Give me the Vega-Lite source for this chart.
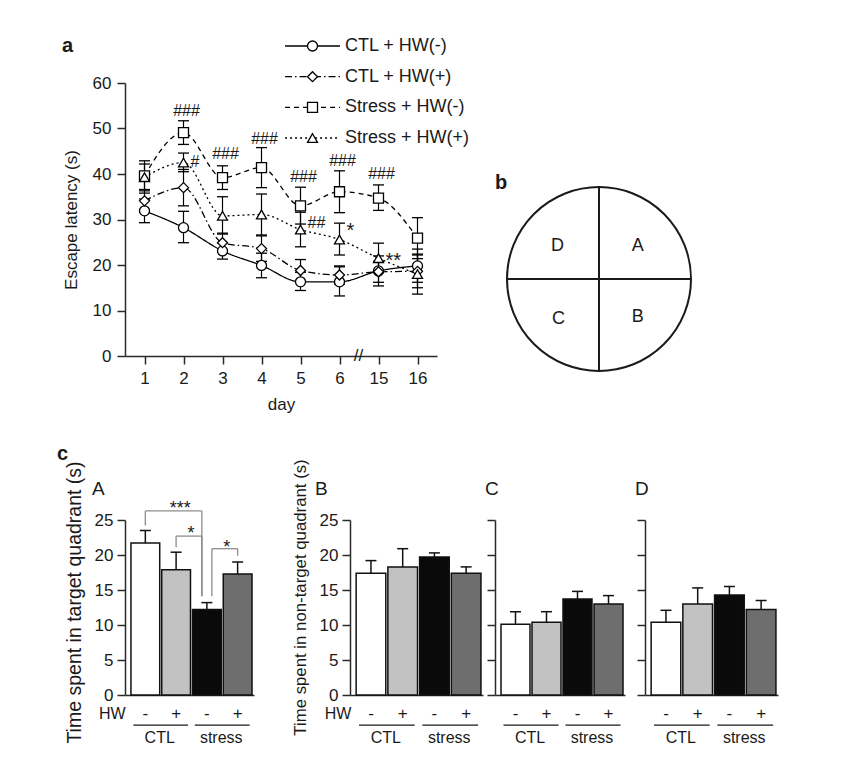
{
  "$schema": "https://vega.github.io/schema/vega-lite/v6.json",
  "background": "white",
  "padding": {"left": 57, "top": 36, "right": 5, "bottom": 5},
  "config": {
    "font": "Liberation Sans",
    "view": {"stroke": null},
    "axis": {"domainColor": "#2a2a2a", "domainWidth": 1.5, "tickColor": "#2a2a2a", "tickWidth": 1.5, "labelColor": "#1a1a1a", "titleColor": "#1a1a1a", "titleFontWeight": "normal", "grid": false, "labelFont": "Liberation Sans", "titleFont": "Liberation Sans", "labelOverlap": false},
    "title": {"font": "Liberation Sans", "color": "#1a1a1a"}
  },
  "datasets": {
    "latency": [
      {"series": "CTL + HW(-)", "day": 1, "mean": 31.9, "lo": 29.3, "hi": 34.5},
      {"series": "CTL + HW(-)", "day": 2, "mean": 28.2, "lo": 24.9, "hi": 31.8},
      {"series": "CTL + HW(-)", "day": 3, "mean": 23.1, "lo": 21.3, "hi": 24.9},
      {"series": "CTL + HW(-)", "day": 4, "mean": 19.9, "lo": 17.2, "hi": 22.6},
      {"series": "CTL + HW(-)", "day": 5, "mean": 16.3, "lo": 14.4, "hi": 18.4},
      {"series": "CTL + HW(-)", "day": 6, "mean": 16.3, "lo": 13.2, "hi": 19.6},
      {"series": "CTL + HW(-)", "day": 15, "mean": 18.7, "lo": 15.4, "hi": 22.0},
      {"series": "CTL + HW(-)", "day": 16, "mean": 19.8, "lo": 16.2, "hi": 23.5},
      {"series": "CTL + HW(+)", "day": 1, "mean": 34.1, "lo": 31.6, "hi": 36.6},
      {"series": "CTL + HW(+)", "day": 2, "mean": 37.0, "lo": 33.0, "hi": 41.0},
      {"series": "CTL + HW(+)", "day": 3, "mean": 24.9, "lo": 22.8, "hi": 27.0},
      {"series": "CTL + HW(+)", "day": 4, "mean": 23.6, "lo": 20.8, "hi": 26.4},
      {"series": "CTL + HW(+)", "day": 5, "mean": 18.8, "lo": 16.4, "hi": 21.2},
      {"series": "CTL + HW(+)", "day": 6, "mean": 17.8, "lo": 15.8, "hi": 19.8},
      {"series": "CTL + HW(+)", "day": 15, "mean": 18.5, "lo": 16.2, "hi": 20.8},
      {"series": "CTL + HW(+)", "day": 16, "mean": 18.6, "lo": 15.0, "hi": 22.2},
      {"series": "Stress + HW(-)", "day": 1, "mean": 39.6, "lo": 36.3, "hi": 42.9},
      {"series": "Stress + HW(-)", "day": 2, "mean": 49.1, "lo": 46.5, "hi": 51.7},
      {"series": "Stress + HW(-)", "day": 3, "mean": 39.2, "lo": 36.6, "hi": 41.8},
      {"series": "Stress + HW(-)", "day": 4, "mean": 41.4, "lo": 37.0, "hi": 45.8},
      {"series": "Stress + HW(-)", "day": 5, "mean": 33.0, "lo": 29.0, "hi": 37.1},
      {"series": "Stress + HW(-)", "day": 6, "mean": 36.1, "lo": 31.5, "hi": 40.7},
      {"series": "Stress + HW(-)", "day": 15, "mean": 34.7, "lo": 32.0, "hi": 37.6},
      {"series": "Stress + HW(-)", "day": 16, "mean": 25.9, "lo": 21.4, "hi": 30.4},
      {"series": "Stress + HW(+)", "day": 1, "mean": 39.3, "lo": 35.8, "hi": 42.2},
      {"series": "Stress + HW(+)", "day": 2, "mean": 42.5, "lo": 40.5, "hi": 44.6},
      {"series": "Stress + HW(+)", "day": 3, "mean": 30.8, "lo": 26.8, "hi": 35.0},
      {"series": "Stress + HW(+)", "day": 4, "mean": 31.1, "lo": 26.6, "hi": 35.6},
      {"series": "Stress + HW(+)", "day": 5, "mean": 27.8, "lo": 24.0, "hi": 31.6},
      {"series": "Stress + HW(+)", "day": 6, "mean": 25.6, "lo": 22.2, "hi": 29.2},
      {"series": "Stress + HW(+)", "day": 15, "mean": 21.5, "lo": 18.3, "hi": 24.8},
      {"series": "Stress + HW(+)", "day": 16, "mean": 18.0, "lo": 13.6, "hi": 22.4}
    ],
    "legendRows": [
      {"series": "CTL + HW(-)", "rank": 1},
      {"series": "CTL + HW(+)", "rank": 2},
      {"series": "Stress + HW(-)", "rank": 3},
      {"series": "Stress + HW(+)", "rank": 4}
    ],
    "notes": [
      {"day": 2, "y": 53.8, "note": "###", "pos": "top"},
      {"day": 3, "y": 44.3, "note": "###", "pos": "top"},
      {"day": 4, "y": 47.8, "note": "###", "pos": "top"},
      {"day": 5, "y": 39.3, "note": "###", "pos": "top"},
      {"day": 6, "y": 42.9, "note": "###", "pos": "top"},
      {"day": 15, "y": 39.9, "note": "###", "pos": "top"},
      {"day": 2, "y": 42.7, "note": "#", "pos": "right"},
      {"day": 5, "y": 29.3, "note": "##", "pos": "right"},
      {"day": 6, "y": 28.4, "note": "*", "pos": "star"},
      {"day": 15, "y": 21.8, "note": "**", "pos": "star"}
    ],
    "quad": [
      {"quad": "A", "cond": "CTL-", "hw": "-", "mean": 21.7, "hi": 23.5},
      {"quad": "A", "cond": "CTL+", "hw": "+", "mean": 17.9, "hi": 20.4},
      {"quad": "A", "cond": "stress-", "hw": "-", "mean": 12.2, "hi": 13.2},
      {"quad": "A", "cond": "stress+", "hw": "+", "mean": 17.3, "hi": 19.0},
      {"quad": "B", "cond": "CTL-", "hw": "-", "mean": 17.4, "hi": 19.2},
      {"quad": "B", "cond": "CTL+", "hw": "+", "mean": 18.3, "hi": 20.9},
      {"quad": "B", "cond": "stress-", "hw": "-", "mean": 19.7, "hi": 20.3},
      {"quad": "B", "cond": "stress+", "hw": "+", "mean": 17.4, "hi": 18.3},
      {"quad": "C", "cond": "CTL-", "hw": "-", "mean": 10.1, "hi": 11.9},
      {"quad": "C", "cond": "CTL+", "hw": "+", "mean": 10.4, "hi": 11.9},
      {"quad": "C", "cond": "stress-", "hw": "-", "mean": 13.7, "hi": 14.8},
      {"quad": "C", "cond": "stress+", "hw": "+", "mean": 13.0, "hi": 14.2},
      {"quad": "D", "cond": "CTL-", "hw": "-", "mean": 10.4, "hi": 12.1},
      {"quad": "D", "cond": "CTL+", "hw": "+", "mean": 13.0, "hi": 15.3},
      {"quad": "D", "cond": "stress-", "hw": "-", "mean": 14.3, "hi": 15.5},
      {"quad": "D", "cond": "stress+", "hw": "+", "mean": 12.2, "hi": 13.5}
    ],
    "groups": [
      {"from": "CTL-", "to": "CTL+", "label": "CTL"},
      {"from": "stress-", "to": "stress+", "label": "stress"}
    ],
    "brackets": [
      {"b": "b1", "from": "CTL-", "to": "stress-", "top": 26.3, "fromLo": 24.2, "toLo": 14.1, "stars": "***"},
      {"b": "b2", "from": "CTL+", "to": "stress-", "top": 22.7, "fromLo": 21.1, "toLo": 14.1, "stars": "*"},
      {"b": "b3", "from": "stress-", "to": "stress+", "top": 20.9, "fromLo": 14.1, "toLo": 19.9, "stars": "*"}
    ]
  },
  "vconcat": [
    {
      "bounds": "flush",
      "spacing": 70,
      "hconcat": [
        {
          "width": 312,
          "height": 273,
          "title": {"text": "a", "anchor": "start", "frame": "group", "fontSize": 20, "fontWeight": "bold", "dx": -63, "offset": -35, "baseline": "alphabetic"},
          "resolve": {"scale": {"x": "independent", "y": "independent"}},
          "layer": [
            {
              "layer": [
                {
                  "data": {"name": "latency"},
                  "mark": {"type": "line", "interpolate": "monotone", "color": "black", "strokeWidth": 1.3},
                  "encoding": {
                    "x": {"field": "day", "type": "ordinal", "scale": {"type": "point", "padding": 0.5}, "axis": {"title": "day", "labelAngle": 0, "labelFontSize": 17, "titleFontSize": 17, "tickSize": 8, "labelPadding": 6, "titlePadding": 10}},
                    "y": {"field": "mean", "type": "quantitative", "scale": {"domain": [0, 60], "nice": false}, "axis": {"title": "Escape latency (s)", "values": [0, 10, 20, 30, 40, 50, 60], "tickCount": 7, "labelFontSize": 17, "titleFontSize": 17, "tickSize": 8, "labelPadding": 6, "titlePadding": 12}},
                    "strokeDash": {"field": "series", "type": "nominal", "scale": {"domain": ["CTL + HW(-)", "CTL + HW(+)", "Stress + HW(-)", "Stress + HW(+)"], "range": [[1, 0], [7, 3, 1.5, 3], [5, 4], [2, 3]]}, "legend": null}
                  }
                },
                {
                  "data": {"name": "latency"},
                  "mark": {"type": "rule", "color": "black", "strokeWidth": 1.2},
                  "encoding": {"x": {"field": "day", "type": "ordinal"}, "y": {"field": "lo", "type": "quantitative"}, "y2": {"field": "hi"}}
                },
                {
                  "data": {"name": "latency"},
                  "mark": {"type": "tick", "color": "black", "thickness": 1.3, "size": 11, "opacity": 1},
                  "encoding": {"x": {"field": "day", "type": "ordinal"}, "y": {"field": "lo", "type": "quantitative"}}
                },
                {
                  "data": {"name": "latency"},
                  "mark": {"type": "tick", "color": "black", "thickness": 1.3, "size": 11, "opacity": 1},
                  "encoding": {"x": {"field": "day", "type": "ordinal"}, "y": {"field": "hi", "type": "quantitative"}}
                },
                {
                  "data": {"name": "latency"},
                  "mark": {"type": "point", "filled": false, "fill": "white", "stroke": "black", "strokeWidth": 1.3, "size": 100, "opacity": 1},
                  "encoding": {
                    "x": {"field": "day", "type": "ordinal"},
                    "y": {"field": "mean", "type": "quantitative"},
                    "shape": {"field": "series", "type": "nominal", "scale": {"domain": ["CTL + HW(-)", "CTL + HW(+)", "Stress + HW(-)", "Stress + HW(+)"], "range": ["circle", "diamond", "square", "triangle-up"]}, "legend": null}
                  }
                },
                {
                  "data": {"name": "notes"},
                  "transform": [{"filter": "datum.pos === 'top'"}],
                  "mark": {"type": "text", "fontSize": 16, "dx": 3, "color": "#1a1a1a"},
                  "encoding": {"x": {"field": "day", "type": "ordinal"}, "y": {"field": "y", "type": "quantitative"}, "text": {"field": "note"}}
                },
                {
                  "data": {"name": "notes"},
                  "transform": [{"filter": "datum.pos === 'right'"}],
                  "mark": {"type": "text", "fontSize": 16, "dx": 7, "align": "left", "color": "#1a1a1a"},
                  "encoding": {"x": {"field": "day", "type": "ordinal"}, "y": {"field": "y", "type": "quantitative"}, "text": {"field": "note"}}
                },
                {
                  "data": {"name": "notes"},
                  "transform": [{"filter": "datum.pos === 'star'"}],
                  "mark": {"type": "text", "fontSize": 20, "dx": 7, "dy": 4, "align": "left", "color": "#1a1a1a"},
                  "encoding": {"x": {"field": "day", "type": "ordinal"}, "y": {"field": "y", "type": "quantitative"}, "text": {"field": "note"}}
                },
                {
                  "data": {"values": [{"day": 6, "label": "//"}]},
                  "mark": {"type": "text", "fontSize": 17, "dx": 19, "color": "#1a1a1a"},
                  "encoding": {"x": {"field": "day", "type": "ordinal"}, "y": {"datum": 0}, "text": {"field": "label"}}
                }
              ]
            },
            {
              "data": {"name": "legendRows"},
              "encoding": {
                "y": {"field": "rank", "type": "quantitative", "scale": {"domain": [2.206, 11.107], "reverse": true, "nice": false, "zero": false}, "axis": null}
              },
              "layer": [
                {
                  "mark": {"type": "rule", "color": "black", "strokeWidth": 1.3},
                  "encoding": {
                    "x": {"datum": 0.513, "type": "quantitative", "scale": {"domain": [0, 1], "nice": false, "zero": false}, "axis": null},
                    "x2": {"datum": 0.689},
                    "strokeDash": {"field": "series", "type": "nominal", "legend": null}
                  }
                },
                {
                  "mark": {"type": "point", "filled": false, "fill": "white", "stroke": "black", "strokeWidth": 1.3, "size": 100, "opacity": 1},
                  "encoding": {
                    "x": {"datum": 0.601, "type": "quantitative"},
                    "shape": {"field": "series", "type": "nominal", "legend": null}
                  }
                },
                {
                  "mark": {"type": "text", "align": "left", "fontSize": 18, "color": "#1a1a1a"},
                  "encoding": {
                    "x": {"datum": 0.705, "type": "quantitative"},
                    "text": {"field": "series"}
                  }
                }
              ]
            }
          ]
        },
        {
          "width": 184,
          "height": 288,
          "title": {"text": "b", "anchor": "start", "frame": "group", "fontSize": 20, "fontWeight": "bold", "dx": -12, "offset": -126, "baseline": "alphabetic"},
          "layer": [
            {
              "data": {"values": [{"cx": 0, "cy": 0}]},
              "mark": {"type": "point", "shape": "circle", "size": 33856, "filled": false, "stroke": "#1a1a1a", "strokeWidth": 2, "opacity": 1},
              "encoding": {
                "x": {"field": "cx", "type": "quantitative", "scale": {"domain": [-1, 1], "nice": false, "zero": false}, "axis": null},
                "y": {"field": "cy", "type": "quantitative", "scale": {"domain": [-1, 2.1304], "nice": false, "zero": false}, "axis": null}
              }
            },
            {
              "data": {"values": [{"x1": -1, "x2": 1, "y1": 0, "y2": 0}, {"x1": 0, "x2": 0, "y1": -1, "y2": 1}]},
              "mark": {"type": "rule", "color": "#1a1a1a", "strokeWidth": 2},
              "encoding": {
                "x": {"field": "x1", "type": "quantitative"}, "x2": {"field": "x2"},
                "y": {"field": "y1", "type": "quantitative"}, "y2": {"field": "y2"}
              }
            },
            {
              "data": {"values": [{"q": "D", "qx": -0.45, "qy": 0.36}, {"q": "A", "qx": 0.42, "qy": 0.36}, {"q": "C", "qx": -0.44, "qy": -0.43}, {"q": "B", "qx": 0.42, "qy": -0.41}]},
              "mark": {"type": "text", "fontSize": 18, "color": "#1a1a1a"},
              "encoding": {"x": {"field": "qx", "type": "quantitative"}, "y": {"field": "qy", "type": "quantitative"}, "text": {"field": "q"}}
            }
          ]
        }
      ]
    },
    {
      "bounds": "flush",
      "spacing": 12,
      "title": {"text": "c", "anchor": "start", "frame": "group", "fontSize": 20, "fontWeight": "bold", "dx": -68, "offset": -21.5, "baseline": "alphabetic"},
      "hconcat": [
        {
          "width": 213,
          "height": 175,
          "title": {"text": "A", "anchor": "start", "frame": "group", "fontSize": 19, "fontWeight": "normal", "dx": -33, "offset": -53.5, "baseline": "alphabetic"},
          "layer": [
            {
              "data": {"name": "quad"},
              "transform": [{"filter": "datum.quad === 'A'"}],
              "mark": {"type": "bar", "stroke": "#111111", "strokeWidth": 1.5},
              "encoding": {
                "x": {"field": "cond", "type": "nominal", "scale": {"domain": ["CTL-", "CTL+", "stress-", "stress+"], "range": [0, 129], "paddingInner": 0.065, "paddingOuter": 0.129, "align": 0.75}, "axis": {"title": null, "labels": false, "ticks": false, "domain": true}},
                "y": {"field": "mean", "type": "quantitative", "scale": {"domain": [0, 25], "nice": false}, "axis": {"title": "Time spent in target quadrant (s)", "values": [0, 5, 10, 15, 20, 25], "tickCount": 6, "labelOverlap": false, "tickSize": 8, "labelPadding": 4, "labelFontSize": 17, "titleFontSize": 19.5, "titlePadding": 10, "titleY": 82}},
                "fill": {"field": "cond", "type": "nominal", "scale": {"domain": ["CTL-", "CTL+", "stress-", "stress+"], "range": ["#ffffff", "#c2c2c2", "#0a0a0a", "#6e6e6e"]}, "legend": null}
              }
            },
            {
              "data": {"name": "quad"},
              "transform": [{"filter": "datum.quad === 'A'"}],
              "mark": {"type": "rule", "color": "#111111", "strokeWidth": 1.5},
              "encoding": {"x": {"field": "cond", "type": "nominal"}, "y": {"field": "mean", "type": "quantitative"}, "y2": {"field": "hi"}}
            },
            {
              "data": {"name": "quad"},
              "transform": [{"filter": "datum.quad === 'A'"}],
              "mark": {"type": "tick", "color": "#111111", "thickness": 1.5, "size": 11, "opacity": 1},
              "encoding": {"x": {"field": "cond", "type": "nominal"}, "y": {"field": "hi", "type": "quantitative"}}
            },
            {
              "data": {"name": "quad"},
              "transform": [{"filter": "datum.quad === 'A'"}],
              "mark": {"type": "text", "fontSize": 17, "color": "#1a1a1a"},
              "encoding": {"x": {"field": "cond", "type": "nominal"}, "y": {"datum": -2.7}, "text": {"field": "hw"}}
            },
            {
              "data": {"values": [{"cond": "CTL-", "t": "HW"}]},
              "mark": {"type": "text", "fontSize": 16, "dx": -33, "color": "#1a1a1a"},
              "encoding": {"x": {"field": "cond", "type": "nominal"}, "y": {"datum": -2.7}, "text": {"field": "t"}}
            },
            {
              "data": {"name": "groups"},
              "mark": {"type": "rule", "color": "#1a1a1a", "strokeWidth": 1.3, "xOffset": -12, "x2Offset": 12},
              "encoding": {"x": {"field": "from", "type": "nominal"}, "x2": {"field": "to"}, "y": {"datum": -4.3}}
            },
            {
              "data": {"name": "groups"},
              "mark": {"type": "text", "fontSize": 16, "color": "#1a1a1a"},
              "encoding": {"x": {"field": "from", "type": "nominal", "bandPosition": 1}, "y": {"datum": -6.1}, "text": {"field": "label"}}
            },
            {
              "data": {"name": "brackets"},
              "transform": [{"filter": "datum.b !== 'b3'"}],
              "layer": [
                {"mark": {"type": "rule", "color": "#8c8c8c", "strokeWidth": 1.3, "x2Offset": -5}, "encoding": {"x": {"field": "from", "type": "nominal"}, "x2": {"field": "to"}, "y": {"field": "top", "type": "quantitative"}}},
                {"mark": {"type": "rule", "color": "#8c8c8c", "strokeWidth": 1.3}, "encoding": {"x": {"field": "from", "type": "nominal"}, "y": {"field": "fromLo", "type": "quantitative"}, "y2": {"field": "top"}}},
                {"mark": {"type": "rule", "color": "#8c8c8c", "strokeWidth": 1.3, "xOffset": -5}, "encoding": {"x": {"field": "to", "type": "nominal"}, "y": {"field": "toLo", "type": "quantitative"}, "y2": {"field": "top"}}}
              ]
            },
            {
              "data": {"name": "brackets"},
              "transform": [{"filter": "datum.b === 'b3'"}],
              "layer": [
                {"mark": {"type": "rule", "color": "#8c8c8c", "strokeWidth": 1.3, "xOffset": 5}, "encoding": {"x": {"field": "from", "type": "nominal"}, "x2": {"field": "to"}, "y": {"field": "top", "type": "quantitative"}}},
                {"mark": {"type": "rule", "color": "#8c8c8c", "strokeWidth": 1.3, "xOffset": 5}, "encoding": {"x": {"field": "from", "type": "nominal"}, "y": {"field": "fromLo", "type": "quantitative"}, "y2": {"field": "top"}}},
                {"mark": {"type": "rule", "color": "#8c8c8c", "strokeWidth": 1.3}, "encoding": {"x": {"field": "to", "type": "nominal"}, "y": {"field": "toLo", "type": "quantitative"}, "y2": {"field": "top"}}}
              ]
            },
            {
              "data": {"name": "brackets"},
              "transform": [{"filter": "datum.b === 'b1'"}],
              "mark": {"type": "text", "fontSize": 18, "dx": 35, "dy": 3, "baseline": "alphabetic", "color": "#1a1a1a"},
              "encoding": {"x": {"field": "from", "type": "nominal"}, "y": {"field": "top", "type": "quantitative"}, "text": {"field": "stars"}}
            },
            {
              "data": {"name": "brackets"},
              "transform": [{"filter": "datum.b === 'b2'"}],
              "mark": {"type": "text", "fontSize": 18, "dx": 15, "dy": 3, "baseline": "alphabetic", "color": "#1a1a1a"},
              "encoding": {"x": {"field": "from", "type": "nominal"}, "y": {"field": "top", "type": "quantitative"}, "text": {"field": "stars"}}
            },
            {
              "data": {"name": "brackets"},
              "transform": [{"filter": "datum.b === 'b3'"}],
              "mark": {"type": "text", "fontSize": 18, "dx": 20, "dy": 4, "baseline": "alphabetic", "color": "#1a1a1a"},
              "encoding": {"x": {"field": "from", "type": "nominal"}, "y": {"field": "top", "type": "quantitative"}, "text": {"field": "stars"}}
            }
          ]
        },
        {
          "width": 133,
          "height": 175,
          "title": {"text": "B", "anchor": "start", "frame": "group", "fontSize": 19, "fontWeight": "normal", "dx": -35, "offset": -55.5, "baseline": "alphabetic"},
          "layer": [
            {
              "data": {"name": "quad"},
              "transform": [{"filter": "datum.quad === 'B'"}],
              "mark": {"type": "bar", "stroke": "#111111", "strokeWidth": 1.5},
              "encoding": {
                "x": {"field": "cond", "type": "nominal", "scale": {"domain": ["CTL-", "CTL+", "stress-", "stress+"], "paddingInner": 0.065, "paddingOuter": 0.129, "align": 0.75}, "axis": {"title": null, "labels": false, "ticks": false, "domain": true}},
                "y": {"field": "mean", "type": "quantitative", "scale": {"domain": [0, 25], "nice": false}, "axis": {"title": "Time spent in non-target quadrant (s)", "values": [0, 5, 10, 15, 20, 25], "tickCount": 6, "labelOverlap": false, "tickSize": 8, "labelPadding": 4, "labelFontSize": 17, "titleFontSize": 16.8, "titlePadding": 10, "titleY": 77}},
                "fill": {"field": "cond", "type": "nominal", "scale": {"domain": ["CTL-", "CTL+", "stress-", "stress+"], "range": ["#ffffff", "#c2c2c2", "#0a0a0a", "#6e6e6e"]}, "legend": null}
              }
            },
            {
              "data": {"name": "quad"},
              "transform": [{"filter": "datum.quad === 'B'"}],
              "mark": {"type": "rule", "color": "#111111", "strokeWidth": 1.5},
              "encoding": {"x": {"field": "cond", "type": "nominal"}, "y": {"field": "mean", "type": "quantitative"}, "y2": {"field": "hi"}}
            },
            {
              "data": {"name": "quad"},
              "transform": [{"filter": "datum.quad === 'B'"}],
              "mark": {"type": "tick", "color": "#111111", "thickness": 1.5, "size": 11, "opacity": 1},
              "encoding": {"x": {"field": "cond", "type": "nominal"}, "y": {"field": "hi", "type": "quantitative"}}
            },
            {
              "data": {"name": "quad"},
              "transform": [{"filter": "datum.quad === 'B'"}],
              "mark": {"type": "text", "fontSize": 17, "color": "#1a1a1a"},
              "encoding": {"x": {"field": "cond", "type": "nominal"}, "y": {"datum": -2.7}, "text": {"field": "hw"}}
            },
            {
              "data": {"values": [{"cond": "CTL-", "t": "HW"}]},
              "mark": {"type": "text", "fontSize": 16, "dx": -33, "color": "#1a1a1a"},
              "encoding": {"x": {"field": "cond", "type": "nominal"}, "y": {"datum": -2.7}, "text": {"field": "t"}}
            },
            {
              "data": {"name": "groups"},
              "mark": {"type": "rule", "color": "#1a1a1a", "strokeWidth": 1.3, "xOffset": -12, "x2Offset": 12},
              "encoding": {"x": {"field": "from", "type": "nominal"}, "x2": {"field": "to"}, "y": {"datum": -4.3}}
            },
            {
              "data": {"name": "groups"},
              "mark": {"type": "text", "fontSize": 16, "color": "#1a1a1a"},
              "encoding": {"x": {"field": "from", "type": "nominal", "bandPosition": 1}, "y": {"datum": -6.1}, "text": {"field": "label"}}
            }
          ]
        },
        {
          "width": 138,
          "height": 175,
          "title": {"text": "C", "anchor": "start", "frame": "group", "fontSize": 19, "fontWeight": "normal", "dx": -10, "offset": 5.25, "baseline": "alphabetic"},
          "layer": [
            {
              "data": {"name": "quad"},
              "transform": [{"filter": "datum.quad === 'C'"}],
              "mark": {"type": "bar", "stroke": "#111111", "strokeWidth": 1.5},
              "encoding": {
                "x": {"field": "cond", "type": "nominal", "scale": {"domain": ["CTL-", "CTL+", "stress-", "stress+"], "range": [0, 130], "paddingInner": 0.065, "paddingOuter": 0.129, "align": 0.75}, "axis": {"title": null, "labels": false, "ticks": false, "domain": true}},
                "y": {"field": "mean", "type": "quantitative", "scale": {"domain": [0, 25], "nice": false}, "axis": {"title": null, "labels": false, "values": [0, 5, 10, 15, 20, 25], "tickCount": 6, "tickSize": 8}},
                "fill": {"field": "cond", "type": "nominal", "scale": {"domain": ["CTL-", "CTL+", "stress-", "stress+"], "range": ["#ffffff", "#c2c2c2", "#0a0a0a", "#6e6e6e"]}, "legend": null}
              }
            },
            {
              "data": {"name": "quad"},
              "transform": [{"filter": "datum.quad === 'C'"}],
              "mark": {"type": "rule", "color": "#111111", "strokeWidth": 1.5},
              "encoding": {"x": {"field": "cond", "type": "nominal"}, "y": {"field": "mean", "type": "quantitative"}, "y2": {"field": "hi"}}
            },
            {
              "data": {"name": "quad"},
              "transform": [{"filter": "datum.quad === 'C'"}],
              "mark": {"type": "tick", "color": "#111111", "thickness": 1.5, "size": 11, "opacity": 1},
              "encoding": {"x": {"field": "cond", "type": "nominal"}, "y": {"field": "hi", "type": "quantitative"}}
            },
            {
              "data": {"name": "quad"},
              "transform": [{"filter": "datum.quad === 'C'"}],
              "mark": {"type": "text", "fontSize": 17, "color": "#1a1a1a"},
              "encoding": {"x": {"field": "cond", "type": "nominal"}, "y": {"datum": -2.7}, "text": {"field": "hw"}}
            },
            {
              "data": {"name": "groups"},
              "mark": {"type": "rule", "color": "#1a1a1a", "strokeWidth": 1.3, "xOffset": -12, "x2Offset": 12},
              "encoding": {"x": {"field": "from", "type": "nominal"}, "x2": {"field": "to"}, "y": {"datum": -4.3}}
            },
            {
              "data": {"name": "groups"},
              "mark": {"type": "text", "fontSize": 16, "color": "#1a1a1a"},
              "encoding": {"x": {"field": "from", "type": "nominal", "bandPosition": 1}, "y": {"datum": -6.1}, "text": {"field": "label"}}
            }
          ]
        },
        {
          "width": 133,
          "height": 175,
          "title": {"text": "D", "anchor": "start", "frame": "group", "fontSize": 19, "fontWeight": "normal", "dx": -10, "offset": 5.25, "baseline": "alphabetic"},
          "layer": [
            {
              "data": {"name": "quad"},
              "transform": [{"filter": "datum.quad === 'D'"}],
              "mark": {"type": "bar", "stroke": "#111111", "strokeWidth": 1.5},
              "encoding": {
                "x": {"field": "cond", "type": "nominal", "scale": {"domain": ["CTL-", "CTL+", "stress-", "stress+"], "paddingInner": 0.065, "paddingOuter": 0.129, "align": 0.75}, "axis": {"title": null, "labels": false, "ticks": false, "domain": true}},
                "y": {"field": "mean", "type": "quantitative", "scale": {"domain": [0, 25], "nice": false}, "axis": {"title": null, "labels": false, "values": [0, 5, 10, 15, 20, 25], "tickCount": 6, "tickSize": 8}},
                "fill": {"field": "cond", "type": "nominal", "scale": {"domain": ["CTL-", "CTL+", "stress-", "stress+"], "range": ["#ffffff", "#c2c2c2", "#0a0a0a", "#6e6e6e"]}, "legend": null}
              }
            },
            {
              "data": {"name": "quad"},
              "transform": [{"filter": "datum.quad === 'D'"}],
              "mark": {"type": "rule", "color": "#111111", "strokeWidth": 1.5},
              "encoding": {"x": {"field": "cond", "type": "nominal"}, "y": {"field": "mean", "type": "quantitative"}, "y2": {"field": "hi"}}
            },
            {
              "data": {"name": "quad"},
              "transform": [{"filter": "datum.quad === 'D'"}],
              "mark": {"type": "tick", "color": "#111111", "thickness": 1.5, "size": 11, "opacity": 1},
              "encoding": {"x": {"field": "cond", "type": "nominal"}, "y": {"field": "hi", "type": "quantitative"}}
            },
            {
              "data": {"name": "quad"},
              "transform": [{"filter": "datum.quad === 'D'"}],
              "mark": {"type": "text", "fontSize": 17, "color": "#1a1a1a"},
              "encoding": {"x": {"field": "cond", "type": "nominal"}, "y": {"datum": -2.7}, "text": {"field": "hw"}}
            },
            {
              "data": {"name": "groups"},
              "mark": {"type": "rule", "color": "#1a1a1a", "strokeWidth": 1.3, "xOffset": -12, "x2Offset": 12},
              "encoding": {"x": {"field": "from", "type": "nominal"}, "x2": {"field": "to"}, "y": {"datum": -4.3}}
            },
            {
              "data": {"name": "groups"},
              "mark": {"type": "text", "fontSize": 16, "color": "#1a1a1a"},
              "encoding": {"x": {"field": "from", "type": "nominal", "bandPosition": 1}, "y": {"datum": -6.1}, "text": {"field": "label"}}
            }
          ]
        }
      ]
    }
  ],
  "spacing": 32,
  "bounds": "full"
}
